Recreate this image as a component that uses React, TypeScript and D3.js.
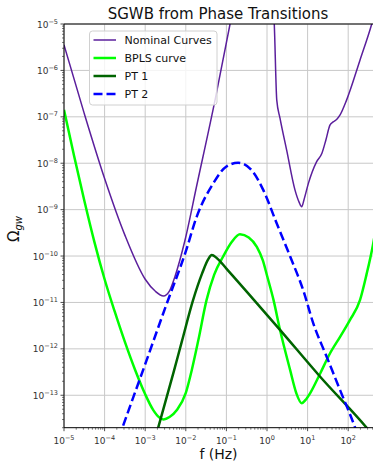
import React from 'react';
import * as d3 from 'd3';

// ---- data (frequency in Hz, Omega_gw) ----
const nominalLeft: [number, number][] = [
  [1e-5, 3.55e-6], [3.16e-5, 1.17e-7], [1e-4, 4.68e-9], [3.16e-4, 2.82e-10],
  [1e-3, 3.16e-11], [1.78e-3, 1.74e-11], [2.82e-3, 1.38e-11], [3.98e-3, 1.78e-11],
  [5.37e-3, 3.55e-11], [9.55e-3, 2.19e-10], [1.86e-2, 3.31e-9], [5.25e-2, 2.29e-7],
  [0.123, 1e-5], [0.158, 3.16e-5],
];
const nominalRight: [number, number][] = [
  [1.41, 3.16e-5], [1.51, 1e-5], [1.74, 2.29e-7], [2.09, 9.33e-8], [3.05, 1.91e-8],
  [4.9, 2.63e-9], [6.17, 1.45e-9], [7.16, 1.15e-9], [8.13, 1.62e-9], [10.5, 3.72e-9],
  [16.6, 1.07e-8], [22.4, 1.62e-8], [28.2, 3.16e-8], [35.5, 6.61e-8], [42.7, 7.76e-8],
  [52.5, 8.91e-8], [63.1, 1.1e-7], [91.2, 2.29e-7], [195, 1.66e-6], [380, 1e-5], [457, 1.78e-5],
];
const bplsCurve: [number, number][] = [
  [1e-5, 1.41e-7], [1.78e-5, 1.41e-8], [3.16e-5, 1.58e-9], [5.62e-5, 2.0e-10],
  [1e-4, 3.16e-11], [1.78e-4, 6.31e-12], [3.16e-4, 1.41e-12], [5.62e-4, 3.55e-13],
  [1e-3, 1.05e-13], [1.58e-3, 4.79e-14], [2.24e-3, 3.31e-14], [2.82e-3, 3.02e-14],
  [3.98e-3, 3.39e-14], [6.03e-3, 4.79e-14], [1e-2, 1.12e-13], [1.41e-2, 3.55e-13],
  [2.04e-2, 1.55e-12], [3.24e-2, 1.12e-11], [5.01e-2, 3.98e-11], [8.32e-2, 9.77e-11],
  [0.135, 2.0e-10], [0.216, 2.95e-10], [0.355, 2.51e-10], [0.562, 1.58e-10],
  [0.794, 7.94e-11], [1.0, 3.8e-11], [1.45, 1.12e-11], [2.09, 2.57e-12], [3.72, 3.47e-13],
  [5.25, 1.12e-13], [7.16, 6.76e-14], [8.91, 7.94e-14], [11.5, 1.1e-13], [20.4, 2.95e-13],
  [35.5, 7.94e-13], [63.1, 1.82e-12], [110, 4.17e-12], [195, 1.12e-11], [282, 3.98e-11],
  [407, 1.74e-10], [501, 5.01e-10],
];
const pt1: [number, number][] = [
  [1.78e-3, 1.2e-14], [2.09e-3, 2.0e-14], [5.01e-3, 3.16e-13], [7.94e-3, 1.41e-12],
  [1.51e-2, 1.12e-11], [2.51e-2, 4.17e-11], [3.55e-2, 8.51e-11], [4.37e-2, 1.05e-10],
  [5.75e-2, 9.12e-11], [0.1, 5.37e-11], [0.178, 3.02e-11], [2.09, 2.57e-12],
  [20.4, 2.51e-13], [285, 2.0e-14], [398, 1.41e-14],
];
const pt2: [number, number][] = [
  [2.24e-4, 1.2e-14], [2.75e-4, 2.0e-14], [1e-3, 4.68e-13], [3.16e-3, 7.94e-12],
  [1e-2, 1.26e-10], [1.86e-2, 7.08e-10], [4.79e-2, 3.72e-9], [0.1, 8.51e-9],
  [0.195, 1.02e-8], [0.417, 7.08e-9], [0.813, 2.63e-9], [1.74, 5.01e-10],
  [3.72, 9.77e-11], [7.76, 1.86e-11], [13.8, 3.55e-12], [29.5, 6.76e-13],
  [63.1, 1.29e-13], [148, 2.0e-14], [178, 1.26e-14],
];

const xTickExps = [-5, -4, -3, -2, -1, 0, 1, 2];
const yTickExps = [-13, -12, -11, -10, -9, -8, -7, -6, -5];
const legendItems = [
  { label: 'Nominal Curves', color: '#5b1f9c', width: 1.5, dash: '' },
  { label: 'BPLS curve', color: '#00ff00', width: 2.5, dash: '' },
  { label: 'PT 1', color: '#006400', width: 2.5, dash: '' },
  { label: 'PT 2', color: '#0000ff', width: 2.5, dash: '9,4' },
];

const FONT = 'DejaVu Sans';

function expLabel(e: number) {
  return e < 0 ? '\u2212' + Math.abs(e) : String(e);
}

export default function App() {
  const W = 373, H = 464;
  const left = 64, top = 24, bottom = 427.7, right = 376;
  const x = d3.scaleLog().domain([1e-5, 1e3]).range([left, left + 8 * 40.6]);
  const y = d3.scaleLog().domain([2e-14, 1e-5]).range([bottom, top]);
  const line = d3.line<[number, number]>()
    .x(d => x(d[0]))
    .y(d => y(d[1]))
    .curve(d3.curveMonotoneX);

  const minorX: number[] = [];
  for (let e = -5; e <= 2; e++) for (let k = 2; k <= 9; k++) {
    const v = k * Math.pow(10, e);
    if (x(v) < W) minorX.push(v);
  }
  const minorY: number[] = [];
  for (let e = -14; e <= -6; e++) for (let k = 2; k <= 9; k++) {
    const v = k * Math.pow(10, e);
    if (v >= 2e-14 && v <= 1e-5) minorY.push(v);
  }
  const grid = '#c8c8c8';
  const tickC = '#222';

  return (
    <svg width={W} height={H} style={{ position: 'absolute', left: 0, top: 0 }} fontFamily={FONT}>
      <defs>
        <clipPath id="plot">
          <rect x={left} y={top} width={right - left} height={bottom - top} />
        </clipPath>
      </defs>
      <rect x={0} y={0} width={W} height={H} fill="#fff" />
      {/* grid */}
      {xTickExps.map(e => (
        <line key={'gx' + e} x1={x(Math.pow(10, e))} x2={x(Math.pow(10, e))} y1={top} y2={bottom} stroke={grid} strokeWidth={1} />
      ))}
      {yTickExps.map(e => (
        <line key={'gy' + e} x1={left} x2={right} y1={y(Math.pow(10, e))} y2={y(Math.pow(10, e))} stroke={grid} strokeWidth={1} />
      ))}
      {/* curves */}
      <g clipPath="url(#plot)" fill="none" strokeLinejoin="round">
        <path d={line(nominalLeft) || ''} stroke={legendItems[0].color} strokeWidth={1.5} />
        <path d={line(nominalRight) || ''} stroke={legendItems[0].color} strokeWidth={1.5} />
        <path d={line(bplsCurve) || ''} stroke={legendItems[1].color} strokeWidth={2.5} />
        <path d={line(pt1) || ''} stroke={legendItems[2].color} strokeWidth={2.5} />
        <path d={line(pt2) || ''} stroke={legendItems[3].color} strokeWidth={2.5} strokeDasharray="9,4" />
      </g>
      {/* spines */}
      <line x1={left} x2={left} y1={top} y2={bottom} stroke="#000" strokeWidth={1} />
      <line x1={left} x2={right} y1={bottom} y2={bottom} stroke="#000" strokeWidth={1} />
      <line x1={left} x2={right} y1={top} y2={top} stroke="#000" strokeWidth={1} />
      {/* x ticks */}
      {xTickExps.map(e => {
        const px = x(Math.pow(10, e));
        return (
          <g key={'xt' + e}>
            <line x1={px} x2={px} y1={bottom} y2={bottom + 3.5} stroke={tickC} strokeWidth={0.8} />
            <text x={px} y={444} textAnchor="middle" fontSize={9} fill="#333">
              10<tspan dy={-4} fontSize={6.5}>{expLabel(e)}</tspan>
            </text>
          </g>
        );
      })}
      {minorX.map((v, i) => (
        <line key={'mx' + i} x1={x(v)} x2={x(v)} y1={bottom} y2={bottom + 2} stroke={tickC} strokeWidth={0.6} />
      ))}
      {/* y ticks */}
      {yTickExps.map(e => {
        const py = y(Math.pow(10, e));
        return (
          <g key={'yt' + e}>
            <line x1={left - 3.5} x2={left} y1={py} y2={py} stroke={tickC} strokeWidth={0.8} />
            <text x={58} y={py + 3.5} textAnchor="end" fontSize={9} fill="#333">
              10<tspan dy={-4} fontSize={6.5}>{expLabel(e)}</tspan>
            </text>
          </g>
        );
      })}
      {minorY.map((v, i) => (
        <line key={'my' + i} x1={left - 2} x2={left} y1={y(v)} y2={y(v)} stroke={tickC} strokeWidth={0.6} />
      ))}
      {/* legend */}
      <g>
        <rect x={89.5} y={31} width={127.5} height={74} rx={3} fill="#fff" fillOpacity={0.8} stroke="#d0d0d0" strokeWidth={1} />
        {legendItems.map((it, i) => {
          const cy = 40 + i * 18;
          return (
            <g key={it.label}>
              <line x1={93.5} x2={116} y1={cy} y2={cy} stroke={it.color} strokeWidth={it.width} strokeDasharray={it.dash || undefined} />
              <text x={124.5} y={cy + 4} fontSize={11} fill="#111">{it.label}</text>
            </g>
          );
        })}
      </g>
      {/* title & labels */}
      <text x={218} y={19} textAnchor="middle" fontSize={15} fill="#111">SGWB from Phase Transitions</text>
      <text x={218.5} y={459} textAnchor="middle" fontSize={14} fill="#111">f (Hz)</text>
      <text transform="translate(19,229) rotate(-90)" textAnchor="middle" fontSize={15} fill="#111">
        Ω<tspan dy={3} fontSize={10} fontStyle="italic">gw</tspan>
      </text>
    </svg>
  );
}
